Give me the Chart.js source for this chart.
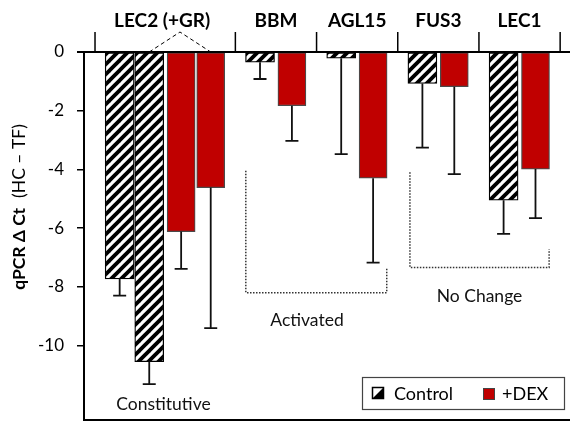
<!DOCTYPE html>
<html><head><meta charset="utf-8">
<script src="https://cdn.jsdelivr.net/npm/chart.js@4.4.1/dist/chart.umd.min.js"></script>
<style>html,body{margin:0;padding:0;background:#fff;}#wrap{width:570px;height:422px;}</style>
</head><body><div id="wrap"><canvas id="c" width="570" height="422"></canvas></div>
<script>
// ---- data ----
const genes = ['LEC2 (+GR)', 'BBM', 'AGL15', 'FUS3', 'LEC1'];
const controlMeans = [[-7.73, -10.55], [-0.35], [-0.21], [-1.07], [-5.05]];
const controlErr   = [[0.57, 0.77],    [0.57],  [3.27],  [2.19],  [1.15]];
const dexMeans     = [[-6.12, -4.62],  [-1.83], [-4.30], [-1.18], [-3.99]];
const dexErr       = [[1.27, 4.79],    [1.20],  [2.88],  [2.98],  [1.67]];
const yTicks = [0, -2, -4, -6, -8, -10];
const seriesNames = ['Control', '+DEX'];
const annotations = ['Constitutive', 'Activated', 'No Change'];

// ---- layout (x in bar-slot units) ----
const X_MAX = 16.76, Y_MIN = -12.54, Y_MAX = 0;
const X_START = 0.38, EDGE = 0.85, SAME = 1.02, CROSS = 1.1;
const FONT = 'Lato, "Open Sans", sans-serif';

const ctrlPts = [], dexPts = [], dividers = [X_START], groupBars = [];
let cursor = X_START;
genes.forEach((g, gi) => {
  let x = cursor + EDGE;
  const xs = [];
  controlMeans[gi].forEach((v, i) => {
    if (i > 0) x += SAME;
    ctrlPts.push({x: x, y: v, err: controlErr[gi][i]});
    xs.push(x);
  });
  dexMeans[gi].forEach((v, i) => {
    x += (i === 0) ? CROSS : SAME;
    dexPts.push({x: x, y: v, err: dexErr[gi][i]});
    xs.push(x);
  });
  groupBars.push(xs);
  cursor = x + EDGE;
  dividers.push(cursor);
});

// hatch pattern
function makeHatch() {
  const p = document.createElement('canvas');
  p.width = 10; p.height = 10;
  const c = p.getContext('2d');
  c.fillStyle = '#fff'; c.fillRect(0, 0, 10, 10);
  c.strokeStyle = '#000'; c.lineWidth = 3.8; c.lineCap = 'square';
  [[-10, 10, 10, -10], [0, 10, 10, 0], [0, 20, 20, 0]].forEach(([a, b, d, e]) => {
    c.beginPath(); c.moveTo(a, b); c.lineTo(d, e); c.stroke();
  });
  return document.getElementById('c').getContext('2d').createPattern(p, 'repeat');
}
const hatch = makeHatch();

const overlay = {
  id: 'overlay',
  afterDatasetsDraw(chart) {
    const ctx = chart.ctx, xs = chart.scales.x, ys = chart.scales.y, a = chart.chartArea;
    const y0 = ys.getPixelForValue(0);
    ctx.save();
    // error bars
    chart.data.datasets.forEach((ds, di) => {
      const meta = chart.getDatasetMeta(di);
      meta.data.forEach((bar, i) => {
        const pt = ds.data[i];
        const yEnd = ys.getPixelForValue(pt.y);
        const yErr = ys.getPixelForValue(pt.y - pt.err);
        ctx.strokeStyle = '#111'; ctx.lineWidth = 1.8;
        ctx.beginPath();
        ctx.moveTo(bar.x, yEnd); ctx.lineTo(bar.x, yErr);
        ctx.moveTo(bar.x - 6.5, yErr); ctx.lineTo(bar.x + 6.5, yErr);
        ctx.stroke();
      });
    });
    // zero line
    ctx.strokeStyle = '#000'; ctx.lineWidth = 2;
    ctx.beginPath(); ctx.moveTo(a.left - 7, y0); ctx.lineTo(chart.width, y0); ctx.stroke();
    // header dividers
    ctx.lineWidth = 1.5;
    dividers.forEach(d => {
      const px = xs.getPixelForValue(d);
      ctx.beginPath(); ctx.moveTo(px, y0 - 20); ctx.lineTo(px, y0); ctx.stroke();
    });
    // header labels
    ctx.fillStyle = '#000';
    ctx.font = 'bold 19px ' + FONT;
    ctx.textAlign = 'center'; ctx.textBaseline = 'alphabetic';
    genes.forEach((g, gi) => {
      const cx = (xs.getPixelForValue(dividers[gi]) + xs.getPixelForValue(dividers[gi + 1])) / 2;
      ctx.fillText(g, cx - (gi === 0 ? 3 : 0), 27);
    });
    // LEC2 connector
    const b = groupBars[0];
    const l = xs.getPixelForValue(b[1]), r = xs.getPixelForValue(b[3]);
    ctx.setLineDash([4, 3]); ctx.lineWidth = 1;
    ctx.beginPath();
    ctx.moveTo(l, y0); ctx.lineTo((l + r) / 2, y0 - 20); ctx.lineTo(r, y0);
    ctx.stroke();
    // brackets
    ctx.setLineDash([1.5, 1.5]); ctx.lineWidth = 1.5; ctx.strokeStyle = '#333';
    const bracket = (x1, yTop1, yBot, x2, yTop2) => {
      ctx.beginPath();
      ctx.moveTo(xs.getPixelForValue(x1), ys.getPixelForValue(yTop1));
      ctx.lineTo(xs.getPixelForValue(x1), ys.getPixelForValue(yBot));
      ctx.lineTo(xs.getPixelForValue(x2), ys.getPixelForValue(yBot));
      ctx.lineTo(xs.getPixelForValue(x2), ys.getPixelForValue(yTop2));
      ctx.stroke();
    };
    bracket(5.58, -4.05, -8.2, 10.44, -7.36);
    bracket(11.24, -4.1, -7.34, 16.04, -6.72);
    ctx.setLineDash([]);
    // annotation text
    ctx.font = '17.5px ' + FONT; ctx.textBaseline = 'middle'; ctx.fillStyle = '#111';
    ctx.fillText(annotations[0], xs.getPixelForValue(2.74), ys.getPixelForValue(-11.99));
    ctx.fillText(annotations[1], xs.getPixelForValue(7.69), ys.getPixelForValue(-9.13));
    ctx.fillText(annotations[2], xs.getPixelForValue(13.64), ys.getPixelForValue(-8.34));
    // legend
    ctx.fillStyle = '#fff'; ctx.fillRect(362, 377, 202, 32);
    ctx.strokeStyle = '#444'; ctx.lineWidth = 1.2; ctx.strokeRect(362.5, 377.5, 202, 32);
    // control icon
    ctx.fillStyle = '#000';
    ctx.beginPath(); ctx.moveTo(372, 399); ctx.lineTo(384, 399); ctx.lineTo(384, 387); ctx.closePath(); ctx.fill();
    ctx.strokeStyle = '#000'; ctx.lineWidth = 1.5; ctx.strokeRect(372.5, 387.5, 11, 11);
    ctx.fillStyle = '#C00000'; ctx.fillRect(483, 388, 12, 12);
    ctx.strokeStyle = '#444'; ctx.lineWidth = 1; ctx.strokeRect(483.5, 388.5, 11, 11);
    ctx.fillStyle = '#000'; ctx.font = '18px ' + FONT; ctx.textAlign = 'left'; ctx.textBaseline = 'middle';
    ctx.fillText(seriesNames[0], 394, 394);
    ctx.fillText(seriesNames[1], 502, 394);
    // y title
    ctx.translate(19, 207); ctx.rotate(-Math.PI / 2);
    const t1 = 'qPCR \u0394 Ct', t2 = '(HC \u2013 TF)';
    ctx.font = 'bold 17.5px ' + FONT; const w1 = ctx.measureText(t1).width;
    ctx.font = '17.5px ' + FONT; const w2 = ctx.measureText(t2).width;
    const gap = 10, tot = w1 + gap + w2;
    ctx.textAlign = 'left';
    ctx.font = 'bold 17.5px ' + FONT; ctx.fillText(t1, -tot / 2, 0);
    ctx.font = '17.5px ' + FONT; ctx.fillText(t2, -tot / 2 + w1 + gap, 0);
    ctx.restore();
  }
};

new Chart(document.getElementById('c'), {
  type: 'bar',
  data: {
    datasets: [
      {label: seriesNames[0], data: ctrlPts, backgroundColor: hatch, borderColor: '#000', borderWidth: 1.3,
       borderSkipped: false, barThickness: 29, grouped: false},
      {label: seriesNames[1], data: dexPts, backgroundColor: '#C00000', borderColor: '#4a4a4a', borderWidth: 1.2,
       borderSkipped: false, barThickness: 28, grouped: false}
    ]
  },
  options: {
    responsive: false, animation: false, devicePixelRatio: 1,
    layout: {padding: {top: 52, left: 0, right: 0, bottom: 0}},
    plugins: {legend: {display: false}, tooltip: {enabled: false}},
    scales: {
      x: {type: 'linear', min: 0, max: X_MAX, offset: false, ticks: {display: false}, grid: {display: false},
          border: {display: true, color: '#000', width: 2},
          afterFit(s) { s.height = 2; s.paddingLeft = 0; s.paddingRight = 0; }},
      y: {min: Y_MIN, max: Y_MAX,
          ticks: {stepSize: 2, color: '#000', padding: 13, font: {family: FONT, size: 17}},
          afterBuildTicks(s) { s.ticks = yTicks.map(v => ({value: v})); },
          grid: {drawOnChartArea: false, drawTicks: true, tickLength: 7, color: '#000', lineWidth: 1.5},
          border: {display: true, color: '#000', width: 2},
          afterFit(s) { s.width = 84; s.paddingTop = 0; s.paddingBottom = 0; }}
    }
  },
  plugins: [overlay]
});
</script></body></html>
